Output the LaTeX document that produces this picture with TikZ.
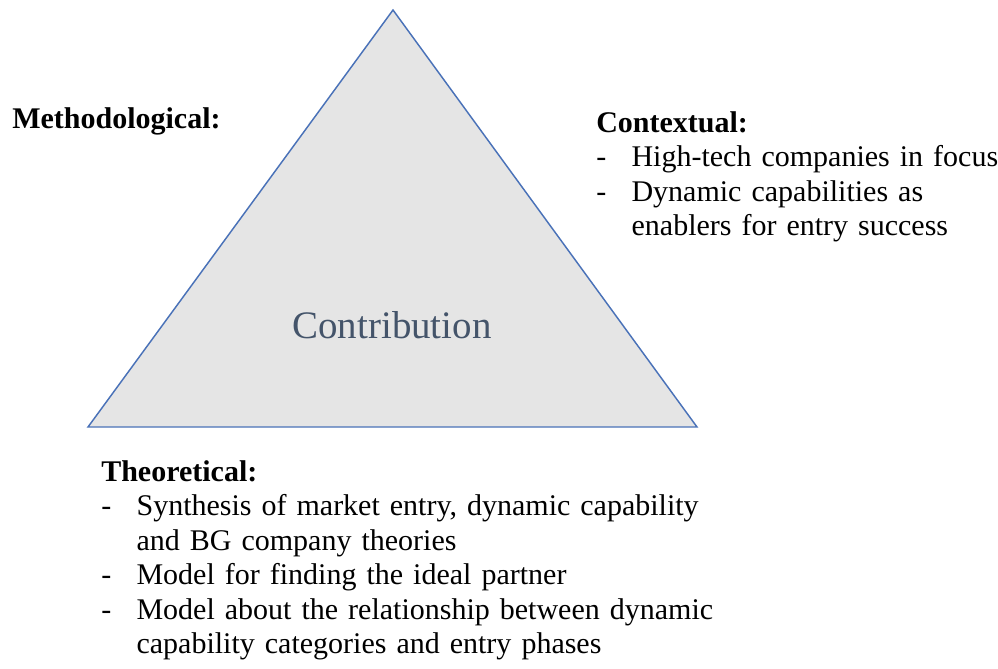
\documentclass[tikz,border=0pt]{standalone}
\usepackage{fontspec}
\setmainfont{LiberationSerif}[
  Extension=.ttf,
  UprightFont=*-Regular,
  BoldFont=*-Bold,
  ItalicFont=*-Italic,
  BoldItalicFont=*-BoldItalic]
\usetikzlibrary{shapes.geometric}

\definecolor{edgeblue}{HTML}{4A72B8}
\definecolor{slate}{HTML}{44546A}
% list entry with a hanging dash
\newcommand{\dashitem}[1]{\par\hangindent=26.5pt\hangafter=1\noindent\makebox[26.5pt][l]{-}#1\par}

\begin{document}
\begin{tikzpicture}[x=0.75pt,y=-0.75pt]
\tikzstyle{heading} = [anchor=base west, inner sep=0pt,
font=\fontsize{22.5}{25.9}\selectfont\bfseries]
\tikzstyle{listing} = [anchor=base west, inner sep=0pt, text width=20cm,
align=left, font=\fontsize{22.5}{25.9}\selectfont]
\tikzstyle{centre} = [anchor=base, inner sep=0pt, text=slate,
font=\fontsize{29.2}{35}\selectfont]
\useasboundingbox (0,0) rectangle (998,668);
% triangle
\coordinate (apex) at (393,10);
\coordinate (left) at (88,427);
\coordinate (right) at (697,427);
\draw[edgeblue, line width=1.1pt, fill=gray!20] (apex) -- (right) -- (left) -- cycle;
\node[centre] (contrib) at (392,338) {Contribution};
% corners
\node[heading] (method) at (12,128) {Methodological:};
\node[listing] (context) at (596,132) {\textbf{Contextual:}
\dashitem{High-tech companies in focus}
\dashitem{Dynamic capabilities as\newline enablers for entry success}};
\node[listing] (theory) at (101,481) {\textbf{Theoretical:}
\dashitem{Synthesis of market entry, dynamic capability\newline and BG company theories}
\dashitem{Model for finding the ideal partner}
\dashitem{Model about the relationship between dynamic\newline capability categories and entry phases}};
\end{tikzpicture}
\end{document}
